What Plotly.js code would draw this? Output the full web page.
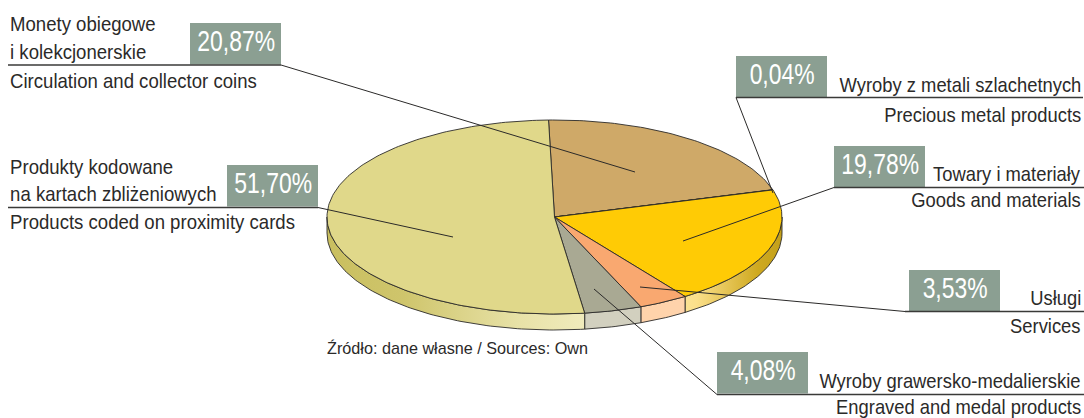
<!DOCTYPE html>
<html><head><meta charset="utf-8">
<script src="https://cdn.plot.ly/plotly-3.0.1.min.js"></script>
<style>html,body{margin:0;padding:0;background:#fff;overflow:hidden}#c{width:1084px;height:418px}</style>
</head><body><div id="c"></div>
<script>
// ---- data ----
const shares = [20.87, 0.04, 19.78, 3.53, 4.08, 51.70];
const shareLabels = ['20,87%', '0,04%', '19,78%', '3,53%', '4,08%', '51,70%'];
const namesPl = [['Monety obiegowe', 'i kolekcjonerskie'], ['Wyroby z metali szlachetnych'], ['Towary i materiały'], ['Usługi'], ['Wyroby grawersko-medalierskie'], ['Produkty kodowane', 'na kartach zbliżeniowych']];
const namesEn = ['Circulation and collector coins', 'Precious metal products', 'Goods and materials', 'Services', 'Engraved and medal products', 'Products coded on proximity cards'];
const sourceNote = 'Źródło: dane własne / Sources: Own';

// ---- styling / placement ----
const topColors = ['#cfa968', '#cfa968', '#ffcb05', '#f9a870', '#a9a993', '#e0d88a'];
const sideScales = [null, null,
  [[0, '#fbe294'], [0.12, '#fbdf8a'], [0.75, '#cfa91f'], [1, '#c3a01a']],
  [[0, '#ffd3ab'], [1, '#ffd3ab']],
  [[0, '#d2d0bf'], [1, '#d2d0bf']],
  [[0, '#c9bf5f'], [0.3, '#cfc56c'], [0.75, '#e8e2a8'], [1, '#f0ebbc']]];
const cx = 554.5, cy = 217, rx = 227.5, ry = 97, depth = 16, startDeg = -1.5;
const ink = '#2b2a29', boxColor = '#8b9f92';
const boxes = [
  {x0: 190, y0: 23, line0: 8, line1: 281, ly: 65, from: [281, 65], to: [635, 172]},
  {x0: 736, y0: 56, line0: 736, line1: 1083, ly: 97.5, from: [736, 97.5], to: [773, 193]},
  {x0: 834, y0: 146, line0: 834, line1: 1084, ly: 187.5, from: [834, 187.5], to: [683, 241]},
  {x0: 909, y0: 270, line0: 905, line1: 1084, ly: 311.5, from: [905, 311.5], to: [640, 287]},
  {x0: 717, y0: 352, line0: 717, line1: 1084, ly: 394.5, from: [717, 394.5], to: [594, 289]},
  {x0: 227, y0: 165, line0: 8, line1: 318, ly: 207.5, from: [318, 207.5], to: [453, 237]}
];
const textRows = [
  {x: 10, a: 'left', y: [23, 51], yEn: 80},
  {x: 1080.5, a: 'right', y: [84], yEn: 114},
  {x: 1080.5, a: 'right', y: [173], yEn: 199},
  {x: 1080.5, a: 'right', y: [297], yEn: 325},
  {x: 1080.5, a: 'right', y: [380], yEn: 406},
  {x: 10, a: 'left', y: [166, 193], yEn: 221}
];
const labelFont = {family: '"Liberation Sans",Arial,sans-serif', size: 21, color: ink};
const narrowLeft = 0.885, narrowRight = 0.875, narrowShare = 0.79;

// ---- geometry from the shares ----
const px = d => cx + rx * Math.sin(d * Math.PI / 180);
const py = d => cy - ry * Math.cos(d * Math.PI / 180);
function arc(a, b) {
  const n = Math.max(2, Math.ceil(Math.abs(b - a))), out = [];
  for (let i = 0; i <= n; i++) out.push(a + (b - a) * i / n);
  return out;
}
const total = shares.reduce((s, v) => s + v, 0);
let acc = startDeg;
const spans = shares.map(v => { const a = acc; acc += v / total * 360; return [a, acc]; });

const traces = [];
spans.forEach(([a, b], i) => {
  const lo = Math.max(a, 90), hi = Math.min(b, 270);
  if (hi <= lo || !sideScales[i]) return;
  const t = arc(lo, hi);
  const xs = t.map(px).concat(t.slice().reverse().map(px), [px(lo)]);
  const ys = t.map(py).concat(t.slice().reverse().map(d => py(d) + depth), [py(lo)]);
  const bx = t.map(px);
  traces.push({type: 'scatter', mode: 'lines', x: xs, y: ys, fill: 'toself',
    fillgradient: {type: 'horizontal', colorscale: sideScales[i], start: Math.min(...bx), stop: Math.max(...bx)},
    line: {color: ink, width: 0.9}, hoverinfo: 'skip'});
});
spans.forEach(([a, b], i) => {
  const t = arc(a, b);
  traces.push({type: 'scatter', mode: 'lines',
    x: [cx].concat(t.map(px), [cx]), y: [cy].concat(t.map(py), [cy]),
    fill: 'toself', fillcolor: topColors[i], line: {color: ink, width: 0.9}, hoverinfo: 'skip'});
});
boxes.forEach(b => traces.push({type: 'scatter', mode: 'lines', x: [b.from[0], b.to[0]], y: [b.from[1], b.to[1]],
  line: {color: ink, width: 1}, hoverinfo: 'skip'}));

const shapes = [], annotations = [], squeeze = [];
function note(x, y, text, anchor, font, s) {
  annotations.push({x, y, xref: 'x', yref: 'y', text, showarrow: false, xanchor: anchor, yanchor: 'middle', font, borderpad: 0, borderwidth: 0});
  squeeze.push({s, anchor});
}
boxes.forEach((b, i) => {
  shapes.push({type: 'rect', xref: 'x', yref: 'y', x0: b.x0, x1: b.x0 + 91, y0: b.y0, y1: b.y0 + 41.5, fillcolor: boxColor, line: {width: 0}, layer: 'below'});
  shapes.push({type: 'line', xref: 'x', yref: 'y', x0: b.line0, x1: b.line1, y0: b.ly, y1: b.ly, line: {color: '#3a3a38', width: 1.4}});
  note(b.x0 + 45.5, b.y0 + 18, shareLabels[i], 'center', {family: labelFont.family, size: 29, color: '#ffffff'}, narrowShare);
  const r = textRows[i];
  const s = r.a === 'left' ? narrowLeft : narrowRight;
  namesPl[i].forEach((t, j) => note(r.x, r.y[j], t, r.a, labelFont, s));
  note(r.x, r.yEn, namesEn[i], r.a, labelFont, s);
});
note(327, 348, sourceNote, 'left', {family: '"Liberation Sans",Arial,sans-serif', size: 16.2, color: ink}, 1);

Plotly.newPlot('c', traces, {
  width: 1084, height: 418, margin: {l: 0, r: 0, t: 0, b: 0}, showlegend: false, hovermode: false,
  paper_bgcolor: '#fff', plot_bgcolor: '#fff',
  xaxis: {range: [0, 1084], visible: false, fixedrange: true},
  yaxis: {range: [418, 0], visible: false, fixedrange: true},
  shapes, annotations
}, {displayModeBar: false, staticPlot: true}).then(gd => {
  // The reference uses a condensed face, none is installed: narrow the real text around its anchor.
  gd.querySelectorAll('.annotation-text').forEach((el, i) => {
    const q = squeeze[i]; if (!q || q.s === 1) return;
    const b = el.getBBox();
    const p = q.anchor === 'left' ? b.x : q.anchor === 'right' ? b.x + b.width : b.x + b.width / 2;
    el.setAttribute('transform', `translate(${p},0) scale(${q.s},1) translate(${-p},0)`);
  });
});
</script></body></html>
